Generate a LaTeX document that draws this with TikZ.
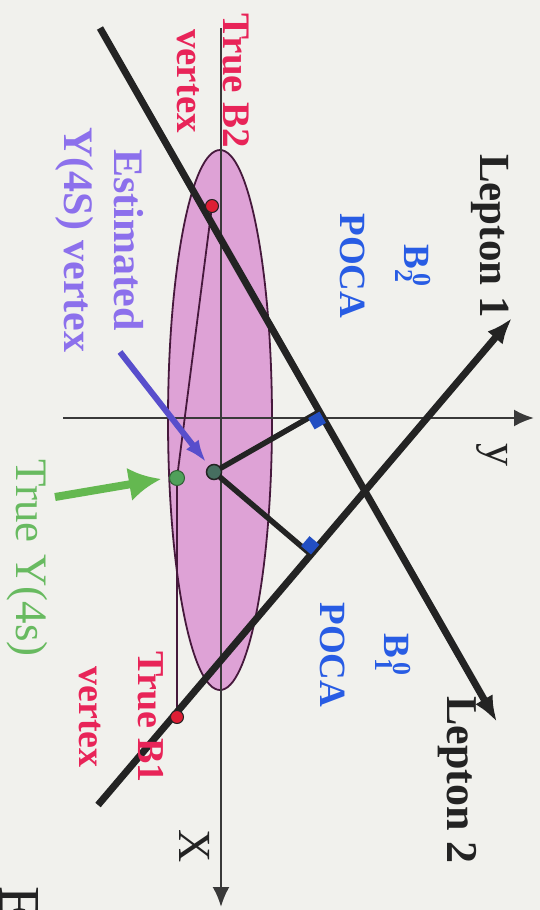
\documentclass[tikz,border=0pt]{standalone}
\usepackage{fontspec}
\setmainfont{Liberation Serif}
\usetikzlibrary{calc,arrows.meta}
\definecolor{bgcol}{RGB}{241,241,237}
\definecolor{ellfill}{RGB}{222,162,214}
\definecolor{ellline}{RGB}{70,25,60}
\definecolor{trackcol}{RGB}{35,35,35}
\definecolor{labred}{RGB}{232,36,88}
\definecolor{labpurple}{RGB}{140,112,236}
\definecolor{labblue}{RGB}{40,92,228}
\definecolor{labgreen}{RGB}{104,186,96}
\definecolor{arrowblue}{RGB}{88,78,204}
\definecolor{arrowgreen}{RGB}{100,184,80}
\definecolor{dotred}{RGB}{222,30,52}
\definecolor{dotgreen}{RGB}{80,160,90}
\definecolor{esttail}{RGB}{70,110,96}
\newcommand\setsz[2]{\fontsize{#1}{#2}\selectfont}
\begin{document}
\begin{tikzpicture}[x=1pt,y=-1pt,
    lab/.style={rotate=-90,inner sep=0pt,align=center},
    track/.style={line width=7pt,draw=trackcol,-{Latex[length=26pt,width=20pt]}},
    axisline/.style={line width=2.4pt,draw=trackcol!90},
    flightline/.style={line width=1.8pt,draw=ellline},
    pocaline/.style={line width=5.5pt,draw=trackcol},
    pocamark/.style={fill=labblue!85!black}]
    \fill[bgcol] (0,0) rectangle (540,910);
    \useasboundingbox (0,0) rectangle (540,910);
    \filldraw[fill=ellfill,draw=ellline,line width=1.8pt] (220,420) ellipse [x radius=52,y radius=270];
    \draw[axisline,-{Latex[length=20pt,width=17pt]}] (221,28) -- (221,907);
    \draw[axisline,-{Latex[length=20pt,width=17pt]}] (63,418) -- (534,418);
    \coordinate (b2v) at (212,206);
    \coordinate (b1v) at (177,717);
    \coordinate (ytrue) at (177,478);
    \coordinate (yest) at (214,472);
    \coordinate (l1s) at (98,805);
    \coordinate (l1e) at (512,318);
    \coordinate (l2s) at (100,28);
    \coordinate (l2e) at (497,722);
    \draw[flightline] (b2v) -- (ytrue) -- (b1v);
    \draw[track] (l1s) -- (l1e);
    \draw[track] (l2s) -- (l2e);
    \coordinate (poca2) at ($(l2s)!(yest)!(l2e)$);
    \coordinate (poca1) at ($(l1s)!(yest)!(l1e)$);
    \draw[pocaline] (yest) -- (poca2);
    \draw[pocaline] (yest) -- (poca1);
    \coordinate (m2a) at ($(poca2)!13pt!(yest)$);
    \coordinate (m2b) at ($(poca2)!13pt!(l2e)$);
    \coordinate (m1a) at ($(poca1)!13pt!(yest)$);
    \coordinate (m1b) at ($(poca1)!13pt!(l1e)$);
    \fill[pocamark] (poca2) -- (m2a) -- ($(m2a)+(m2b)-(poca2)$) -- (m2b) -- cycle;
    \fill[pocamark] (poca1) -- (m1a) -- ($(m1a)+(m1b)-(poca1)$) -- (m1b) -- cycle;
    \filldraw[fill=dotred,draw=trackcol,line width=1pt] (b2v) circle [radius=6.5];
    \filldraw[fill=dotred,draw=trackcol,line width=1pt] (b1v) circle [radius=6.5];
    \filldraw[fill=dotgreen,draw=dotgreen!60!black,line width=1pt] (ytrue) circle [radius=7.5];
    \filldraw[fill=esttail,draw=trackcol,line width=1.5pt] (yest) circle [radius=7.5];
    \draw[line width=6pt,arrowblue,-{Latex[length=22pt,width=16pt]}] (120,352) -- (206,462);
    \draw[line width=8pt,arrowgreen,-{Latex[length=32pt,width=34pt]}] (55,497) -- (161,479);
    \node[lab,text=labred,font=\bfseries\setsz{39}{46}] (b2lab) at (213,81) {True B2\\vertex};
    \node[lab,text=labpurple,font=\bfseries\setsz{42}{50}] (estlab) at (100,240) {Estimated\\Υ(4S) vertex};
    \node[lab,text=trackcol,font=\bfseries\setsz{43}{50}] (lep1) at (490,236) {Lepton 1};
    \node[lab,text=labblue,font=\bfseries\setsz{37}{64}] (poca2lab) at (385,266) {B\rlap{\textsubscript{2}}\textsuperscript{\,0}\\POCA};
    \node[lab,text=trackcol,font=\setsz{46}{50}] (ylab) at (492,455) {y};
    \node[lab,text=labgreen,font=\setsz{45}{50}] (truey) at (27,558) {True Υ(4s)};
    \node[lab,text=labblue,font=\bfseries\setsz{37}{64}] (poca1lab) at (365,655) {B\rlap{\textsubscript{1}}\textsuperscript{\,0}\\POCA};
    \node[lab,text=labred,font=\bfseries\setsz{38}{59}] (b1lab) at (121,717) {True B1\\vertex};
    \node[lab,text=trackcol,font=\bfseries\setsz{44}{50}] (lep2) at (457,780) {Lepton 2};
    \node[lab,text=trackcol,font=\setsz{46}{50}] (xlab) at (195,846) {X};
    \node[lab,text=trackcol,font=\setsz{58}{60},anchor=base west] (edge) at (0,886) {E};
\end{tikzpicture}
\end{document}
